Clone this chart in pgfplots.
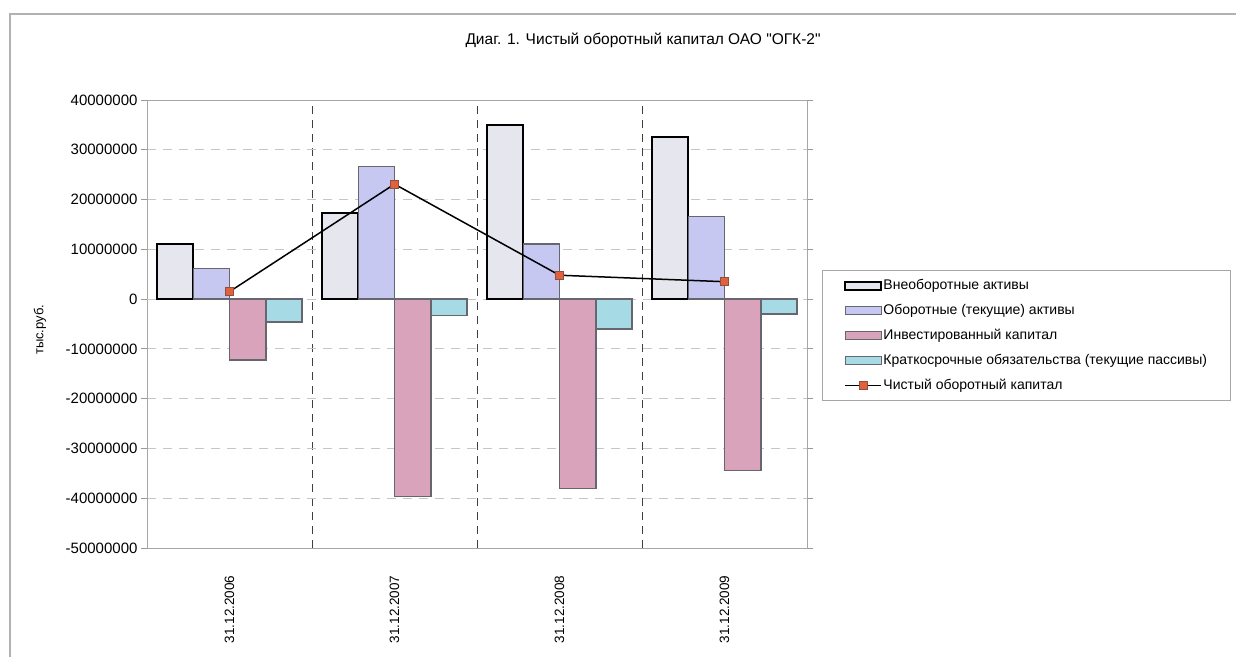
\documentclass[border=0pt]{standalone}
\usepackage{pgfplots}
\pgfplotsset{compat=1.18}
\usepackage{fontspec}
\setmainfont{Liberation Sans}
% plain family (no TeX ligature mapping) so that " stays a straight quote
\newfontfamily\plainfont{Liberation Sans}

\definecolor{vnaFill}{HTML}{E6E6EE}
\definecolor{obaFill}{HTML}{C6C8F2}
\definecolor{invFill}{HTML}{D9A3BC}
\definecolor{ksoFill}{HTML}{A6DAE4}
\definecolor{barEdge}{HTML}{66666E}
\definecolor{nwcMark}{HTML}{E2603C}
\definecolor{nwcEdge}{HTML}{8A5040}

\pgfplotsset{
  bar legend box/.style={legend image code/.code={\draw[##1] (0pt,-4pt) rectangle (36pt,4pt);}},
  nwc legend/.style={legend image code/.code={\draw[mark repeat=2, mark phase=2, ##1] plot coordinates {(0pt,0pt) (18pt,0pt) (36pt,0pt)};}},
}

\begin{document}
\begin{tikzpicture}[x=1pt,y=1pt]
% outer chart frame
\draw[gray!60, line width=1.2pt] (10,-657) -- (10,-14) -- (1236,-14);
\node[font=\plainfont\fontsize{15.5}{18}\selectfont] at (643,-40)
  {Диаг. 1. Чистый оборотный капитал ОАО "ОГК-2"};
\begin{axis}[
  at={(147pt,-548pt)}, anchor=south west,
  scale only axis, width=660pt, height=448pt,
  xmin=-0.5, xmax=3.5, ymin=-50000000, ymax=40000000,
  xtick={0,1,2,3},
  xticklabels={31.12.2006,31.12.2007,31.12.2008,31.12.2009},
  ytick={-50000000,-40000000,-30000000,-20000000,-10000000,0,10000000,20000000,30000000,40000000},
  scaled y ticks=false,
  /pgf/number format/.cd, fixed, precision=0, 1000 sep={}, assume math mode=true,
  /pgfplots/.cd,
  ticklabel style={font=\fontsize{15}{18}\selectfont},
  xticklabel style={rotate=90, anchor=east, font=\fontsize{13.5}{16}\selectfont},
  xticklabel shift=18pt,
  xtick style={draw=none},
  ytick style={gray!80, line width=1pt},
  tick align=outside, major tick length=6pt,
  minor xtick={0.5,1.5,2.5}, minor tick length=0pt,
  xminorgrids,
  minor x grid style={black!75, line width=0.9pt, dash pattern=on 8pt off 6pt},
  ymajorgrids,
  major y grid style={gray!45, line width=1pt, dash pattern=on 9pt off 7pt},
  extra y ticks={0}, extra y tick labels={},
  extra y tick style={grid style={solid, gray!80, line width=1pt}},
  axis line style={gray!70, line width=1pt},
  ylabel={тыс.руб.},
  ylabel style={font=\fontsize{13}{15}\selectfont, at={(axis description cs:-0.162,0.487)}, anchor=center},
  legend cell align=left,
  legend style={at={(axis description cs:1.0227,0.6205)}, anchor=north west,
    draw=gray!70, line width=1pt, font=\fontsize{14}{17}\selectfont,
    inner xsep=22pt, inner ysep=7pt, row sep=9pt,
    nodes={inner sep=1pt, text height=11pt, text depth=3pt}},
]
% Внеоборотные активы
\addplot[ybar, bar width=0.22, bar shift=-0.33, fill=vnaFill, draw=black, line width=2pt, bar legend box]
  coordinates {(0,11000000) (1,17300000) (2,35000000) (3,32500000)};
\addlegendentry{Внеоборотные активы}
% Оборотные (текущие) активы
\addplot[ybar, bar width=0.22, bar shift=-0.11, fill=obaFill, draw=barEdge, line width=1.4pt, bar legend box]
  coordinates {(0,6100000) (1,26700000) (2,11100000) (3,16600000)};
\addlegendentry{Оборотные (текущие) активы}
% Инвестированный капитал
\addplot[ybar, bar width=0.22, bar shift=0.11, fill=invFill, draw=barEdge, line width=1.4pt, bar legend box]
  coordinates {(0,-12200000) (1,-39600000) (2,-38100000) (3,-34400000)};
\addlegendentry{Инвестированный капитал}
% Краткосрочные обязательства
\addplot[ybar, bar width=0.22, bar shift=0.33, fill=ksoFill, draw=barEdge, line width=1.4pt, bar legend box]
  coordinates {(0,-4600000) (1,-3300000) (2,-6000000) (3,-3000000)};
\addlegendentry{Краткосрочные обязательства (текущие пассивы)}
% Чистый оборотный капитал
\addplot[black, line width=1.5pt, sharp plot, mark=square*, mark size=4pt,
  mark options={fill=nwcMark, draw=nwcEdge, line width=0.8pt, solid}, nwc legend]
  coordinates {(0,1500000) (1,23100000) (2,4800000) (3,3500000)};
\addlegendentry{Чистый оборотный капитал}
\end{axis}
\pgfresetboundingbox
\path (0,0) rectangle (1236,-657);
\end{tikzpicture}
\end{document}
